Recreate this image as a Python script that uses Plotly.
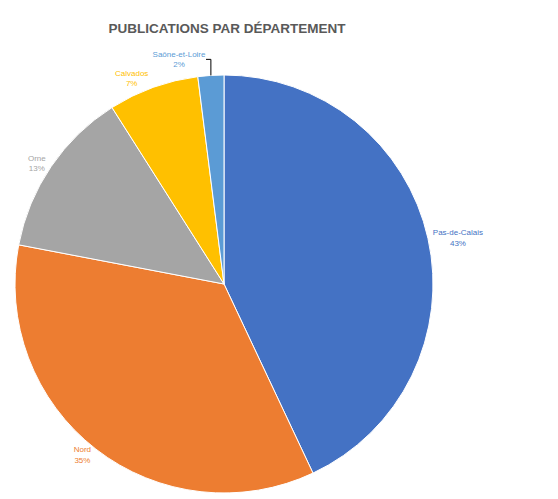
import plotly.graph_objects as go

departements = ["Pas-de-Calais", "Nord", "Orne", "Calvados", "Saône-et-Loire"]
valeurs = [43, 35, 13, 7, 2]
couleurs = ["#4472C4", "#ED7D31", "#A5A5A5", "#FFC000", "#5B9BD5"]

fig = go.Figure(go.Pie(
    labels=departements,
    values=valeurs,
    sort=False,
    direction="clockwise",
    rotation=0,
    marker=dict(colors=couleurs, line=dict(color="white", width=1)),
    textposition="outside",
    texttemplate="%{label}<br>%{percent:.0%}",
    textfont=dict(family="Liberation Sans", size=8, color=couleurs),
    showlegend=False,
    automargin=False,
    hoverinfo="label+percent",
))

fig.update_layout(
    width=558, height=499,
    margin=dict(l=7, r=133, t=67, b=14),
    paper_bgcolor="white",
    title=dict(text="<b>PUBLICATIONS PAR DÉPARTEMENT</b>", x=219/558, xanchor="center",
               y=1 - 20/499, yanchor="middle",
               font=dict(family="Liberation Sans", size=13.5, color="#595959")),
)

fig.write_html("out.html")
